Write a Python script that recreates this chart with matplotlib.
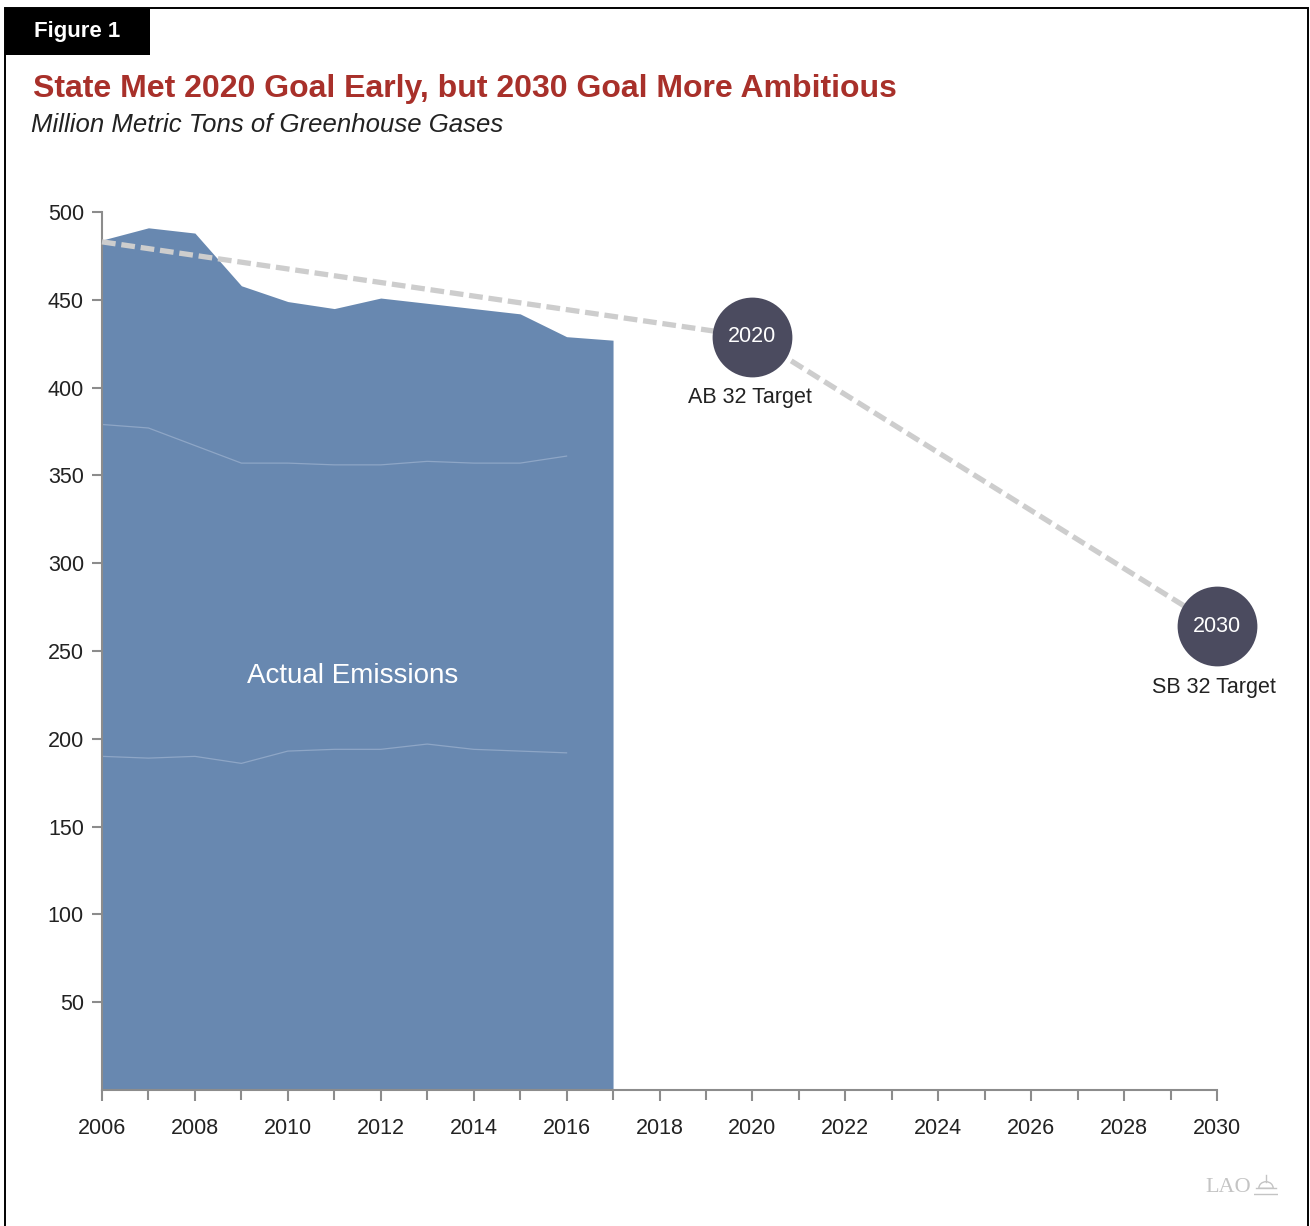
import numpy as np
import matplotlib.pyplot as plt
from matplotlib.patches import Rectangle, Wedge

plt.rcParams['font.family'] = ['Liberation Sans', 'DejaVu Sans']

# ── Data ─────────────────────────────────────────────────────
years = np.arange(2006, 2018)
total = [484, 491, 488, 458, 449, 445, 451, 448, 445, 442, 429, 427]

# faint sector boundaries inside the emissions area
band_years = np.arange(2006, 2017)
upper_band = [379, 377, 367, 357, 357, 356, 356, 358, 357, 357, 361]
lower_band = [190, 189, 190, 186, 193, 194, 194, 197, 194, 193, 192]

path_years = [2006, 2020, 2030]
path_values = [483, 429, 264]

target_years = [2020, 2030]
target_values = [429, 264]
target_labels = ['2020', '2030']
target_names = ['AB 32 Target', 'SB 32 Target']

yticks = np.arange(50, 501, 50)
xticks = np.arange(2006, 2031, 2)

# ── Colours ──────────────────────────────────────────────────
FILL = '#6888b0'
BAND = '#8ea6c6'
DASH = '#cdcdcd'
DOT = '#4b4b5f'
AXIS = '#8c8c8c'
RED = '#a8302a'

W, H = 1310, 1226
fig = plt.figure(figsize=(W / 100, H / 100), dpi=100)


def fx(px):
    return px / W


def fy(py):
    return 1 - py / H


# ── Frame and header ─────────────────────────────────────────
fig.add_artist(Rectangle((fx(5), -0.01), fx(1303), fy(8) + 0.01,
                         transform=fig.transFigure, fill=False,
                         edgecolor='black', lw=1.4))
fig.add_artist(Rectangle((fx(5), fy(55)), fx(145), fy(8) - fy(55),
                         transform=fig.transFigure, facecolor='black',
                         edgecolor='none'))
fig.text(fx(34), fy(31), 'Figure 1', color='white', fontsize=16,
         fontweight='bold', va='center', ha='left')
fig.text(fx(33), fy(97), 'State Met 2020 Goal Early, but 2030 Goal More Ambitious',
         color=RED, fontsize=23, fontweight='bold', va='baseline', ha='left')
fig.text(fx(31), fy(132), 'Million Metric Tons of Greenhouse Gases',
         color='#222222', fontsize=18.5, style='italic', va='baseline', ha='left')

# ── Chart ────────────────────────────────────────────────────
ax = fig.add_axes([fx(102), fy(1090), fx(1217) - fx(102), fy(212) - fy(1090)])

ax.fill_between(years, 0, total, color=FILL, lw=0, zorder=2)
ax.plot(band_years, upper_band, color=BAND, lw=0.9, zorder=3)
ax.plot(band_years, lower_band, color=BAND, lw=0.9, zorder=3)
ax.text(2011.4, 236, 'Actual Emissions', color='white', fontsize=20,
        ha='center', va='center', zorder=4)

ax.plot(path_years, path_values, color=DASH, lw=3.8, dashes=(2.6, 1.1),
        solid_capstyle='butt', zorder=4, clip_on=False)

ax.scatter(target_years, target_values, s=3300, color=DOT, zorder=5,
           clip_on=False, linewidths=0)
for yr, val, lab, name in zip(target_years, target_values, target_labels, target_names):
    ax.text(yr, val, lab, color='white', fontsize=15.5, ha='center',
            va='center', zorder=6, clip_on=False)
    ax.annotate(name, (yr, val), xytext=(-2, -44), textcoords='offset points',
                ha='center', va='center', fontsize=15.5, color='#222222',
                annotation_clip=False)

ax.set_xlim(2006, 2030)
ax.set_ylim(0, 500)
ax.set_xticks(xticks)
ax.set_xticks(np.arange(2006, 2031), minor=True)
ax.set_yticks(yticks)

for side in ['top', 'right']:
    ax.spines[side].set_visible(False)
for side in ['left', 'bottom']:
    ax.spines[side].set_color(AXIS)
    ax.spines[side].set_linewidth(1.5)
    ax.spines[side].set_zorder(3)

ax.tick_params(axis='x', which='both', direction='out', length=8, width=1.5,
               color=AXIS, labelsize=15.5, labelcolor='#222222', pad=12)
ax.tick_params(axis='x', which='minor', length=7)
ax.tick_params(axis='y', direction='out', length=7, width=1.5, color=AXIS,
               labelsize=15.5, labelcolor='#222222', pad=6)
ax.patch.set_alpha(0)

# ── LAO mark ─────────────────────────────────────────────────
fig.text(fx(1205), fy(1187), 'LAO', family='Liberation Serif', fontsize=16,
         color='#c4c4c4', va='center', ha='left')
logo = fig.add_axes([fx(1254), fy(1196), fx(24), fy(1174) - fy(1196)])
logo.set_xlim(0, 1)
logo.set_ylim(0, 1)
logo.axis('off')
logo.add_patch(Wedge((0.5, 0.35), 0.3, 0, 180, facecolor='none',
                     edgecolor='#c4c4c4', lw=1))
logo.plot([0.5, 0.5], [0.65, 0.95], color='#c4c4c4', lw=1)
logo.plot([0.1, 0.9], [0.35, 0.35], color='#c4c4c4', lw=1)
logo.plot([0.0, 1.0], [0.1, 0.1], color='#c4c4c4', lw=1)

fig.savefig('out.png', dpi=100)
